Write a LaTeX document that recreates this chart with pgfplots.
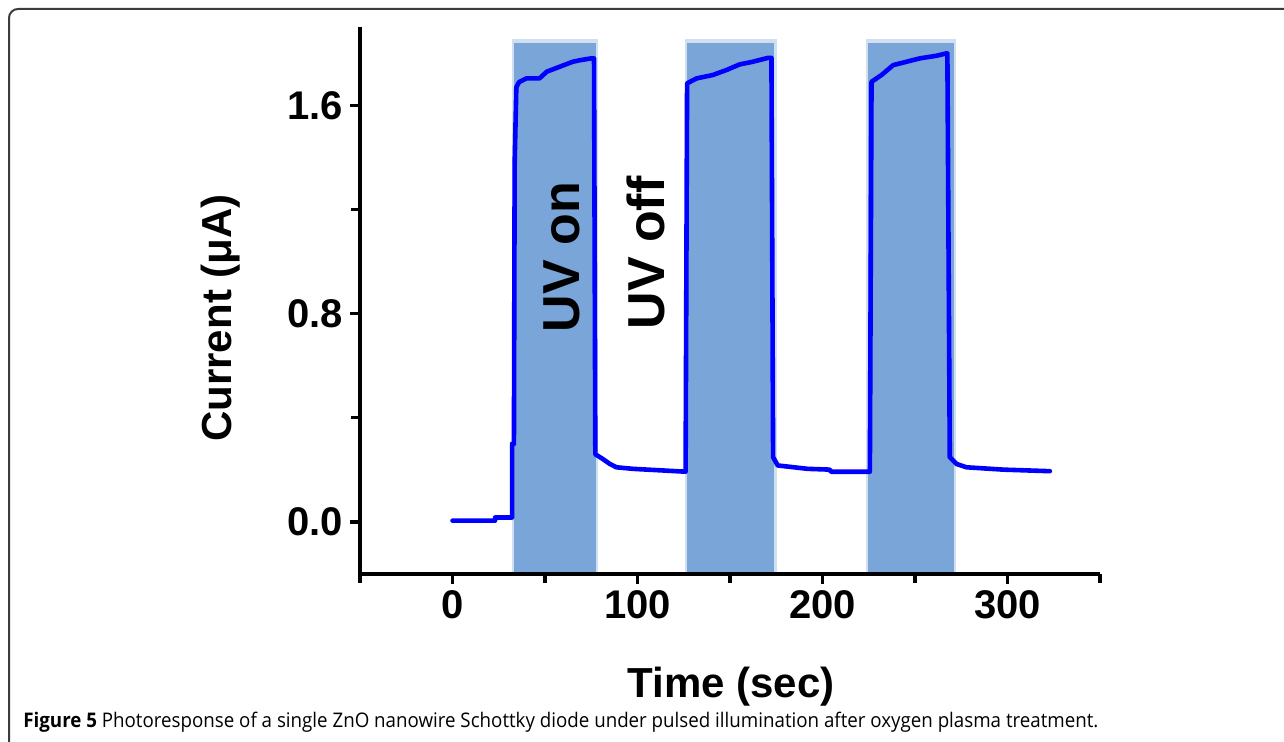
\documentclass[border=0pt]{standalone}
\usepackage{fontspec}
\setmainfont{Liberation Sans}
\newfontfamily\capfont{Open Sans}
\usepackage{pgfplots}
\pgfplotsset{compat=1.18}
\definecolor{bandc}{RGB}{122,165,216}
\definecolor{framec}{RGB}{60,60,60}
\definecolor{linec}{RGB}{0,0,255}

\begin{document}
\begin{tikzpicture}
\path[use as bounding box] (0,0) rectangle (642bp,371bp);
\draw[framec, line width=1bp, rounded corners=4.5bp] (4.5bp,-2bp) -- (4.5bp,366.5bp) -- (645bp,366.5bp);
\begin{axis}[
  at={(180bp,84bp)}, anchor=south west, scale only axis,
  width=370bp, height=273.3bp,
  xmin=-50, xmax=350, ymin=-0.2, ymax=1.9,
  axis lines=left, axis line style={-, line width=2.4bp, black},
  axis on top,
  clip=true,
  xtick={0,100,200,300}, minor xtick={-50,50,150,250,350},
  ytick={0,0.8,1.6}, minor ytick={0.4,1.2},
  tick align=outside, major tick length=5bp, minor tick length=4.5bp,
  every tick/.style={black, line width=1.6bp},
  /pgf/number format/assume math mode=true,
  tick label style={font=\bfseries\fontsize{20bp}{24bp}\selectfont},
  yticklabel style={/pgf/number format/.cd, fixed, fixed zerofill, precision=1},
  xticklabel style={/pgf/number format/.cd, fixed, precision=0},
]
% UV illumination bands (soft edge + solid core)
\addplot[fill=bandc, fill opacity=0.35, draw=none] coordinates {(32.3,-0.2) (32.3,1.855) (78.7,1.855) (78.7,-0.2)} -- cycle;
\addplot[fill=bandc, draw=none] coordinates {(33.5,-0.2) (33.5,1.84) (77.5,1.84) (77.5,-0.2)} -- cycle;
\addplot[fill=bandc, fill opacity=0.35, draw=none] coordinates {(125.8,-0.2) (125.8,1.855) (175.2,1.855) (175.2,-0.2)} -- cycle;
\addplot[fill=bandc, draw=none] coordinates {(127,-0.2) (127,1.84) (174,1.84) (174,-0.2)} -- cycle;
\addplot[fill=bandc, fill opacity=0.35, draw=none] coordinates {(223.3,-0.2) (223.3,1.855) (272.2,1.855) (272.2,-0.2)} -- cycle;
\addplot[fill=bandc, draw=none] coordinates {(224.5,-0.2) (224.5,1.84) (271,1.84) (271,-0.2)} -- cycle;
% photocurrent
\addplot[linec, line width=2.3bp, line join=round, line cap=round] coordinates {
(0,0.005) (23,0.005) (23,0.017) (32.2,0.017) (32.2,0.30) (33.2,0.30) (33.6,1.38) (34.5,1.67)
(36,1.69) (40,1.704) (47,1.704) (51,1.73) (58,1.749) (65,1.768) (69,1.774) (75,1.781) (76.5,1.781)
(77.2,0.26) (81.2,0.242) (85,0.223) (88.6,0.21) (97.5,0.204) (115.7,0.197) (126,0.193)
(126.8,1.685) (131.9,1.704) (140.7,1.717) (148,1.736) (155.3,1.758) (162.3,1.768) (170.6,1.783) (172.4,1.783)
(173.3,0.249) (175.8,0.217) (192,0.204) (204,0.201) (204.5,0.193) (225.6,0.193)
(226.5,1.691) (231.9,1.717) (238.2,1.755) (245.4,1.768) (252.6,1.781) (261.6,1.791) (266.9,1.8) (267.5,1.8)
(268.8,0.249) (272.4,0.223) (277.8,0.21) (297.6,0.201) (322.9,0.195)
};
\end{axis}
% axis labels
\node[anchor=base, font=\bfseries\fontsize{21bp}{25bp}\selectfont] at (365.5bp,22.5bp) {Time (sec)};
\node[anchor=base, rotate=90, font=\bfseries\fontsize{21bp}{25bp}\selectfont] at (115.5bp,212bp) {Current (μA)};
% annotations
\node[anchor=base, rotate=90, font=\bfseries\fontsize{26bp}{30bp}\selectfont] at (289.5bp,242.5bp) {UV on};
\node[anchor=base, rotate=90, font=\bfseries\fontsize{26bp}{30bp}\selectfont] at (332bp,244.5bp) {UV off};
% caption
\node[anchor=base west, inner sep=0pt] at (11.5bp,7.5bp) {\resizebox{537.5bp}{7.7bp}{\capfont\fontsize{11bp}{13bp}\selectfont\textbf{Figure 5} Photoresponse of a single ZnO nanowire Schottky diode under pulsed illumination after oxygen plasma treatment.}};
\end{tikzpicture}
\end{document}
